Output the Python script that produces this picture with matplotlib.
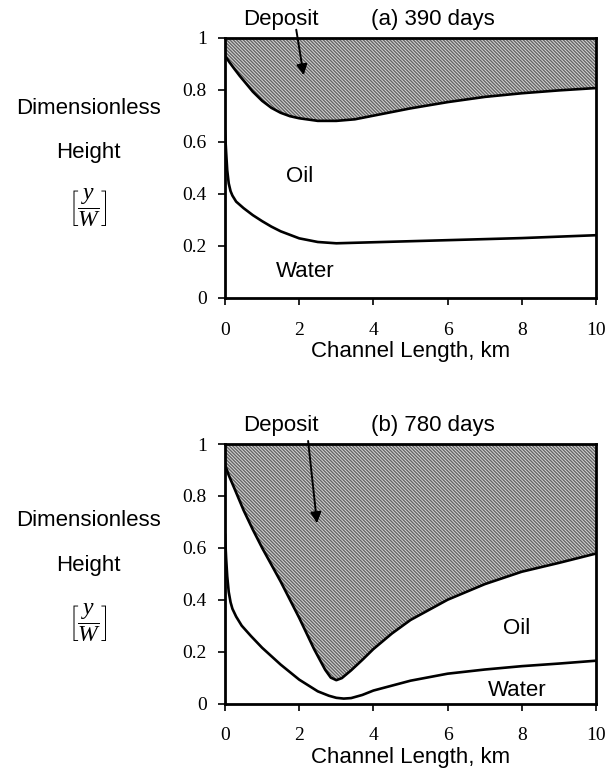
import numpy as np
import matplotlib
matplotlib.use('Agg')
import matplotlib.pyplot as plt

plt.rcParams.update({
    'font.family': 'Liberation Sans',
    'mathtext.fontset': 'custom',
    'mathtext.rm': 'Liberation Serif',
    'mathtext.it': 'Liberation Serif:italic',
    'hatch.linewidth': 1.0,
    'hatch.color': '#666666',
})

# ---- panel (a) 390 days ----
dep_a_x = [0, 0.12, 0.25, 0.4, 0.5, 0.75, 1.0, 1.25, 1.5, 1.75, 2.0, 2.5, 3.0, 3.5, 4.0, 5.0, 6.0, 7.0, 8.0, 9.0, 10.0]
dep_a_y = [0.93, 0.905, 0.88, 0.852, 0.835, 0.792, 0.757, 0.73, 0.711, 0.698, 0.69, 0.68, 0.68, 0.686, 0.70, 0.728, 0.752, 0.772, 0.786, 0.797, 0.806]
ow_a_x = [0, 0.03, 0.06, 0.1, 0.15, 0.2, 0.3, 0.5, 0.75, 1.0, 1.25, 1.5, 2.0, 2.5, 3.0, 3.5, 4.0, 6.0, 8.0, 10.0]
ow_a_y = [0.64, 0.56, 0.49, 0.44, 0.41, 0.393, 0.37, 0.345, 0.318, 0.295, 0.274, 0.256, 0.229, 0.215, 0.21, 0.212, 0.214, 0.222, 0.23, 0.241]

# ---- panel (b) 780 days ----
dep_b_x = [0, 0.1, 0.25, 0.5, 0.75, 1.0, 1.5, 2.0, 2.4, 2.7, 2.85, 3.0, 3.15, 3.4, 3.7, 4.0, 4.5, 5.0, 6.0, 7.0, 8.0, 9.0, 10.0]
dep_b_y = [0.92, 0.88, 0.83, 0.745, 0.67, 0.60, 0.47, 0.33, 0.21, 0.13, 0.1, 0.09, 0.098, 0.128, 0.168, 0.21, 0.27, 0.322, 0.40, 0.46, 0.508, 0.542, 0.578]
ow_b_x = [0, 0.03, 0.06, 0.1, 0.15, 0.2, 0.3, 0.45, 0.7, 1.0, 1.5, 2.0, 2.5, 2.8, 3.0, 3.2, 3.4, 3.7, 4.0, 5.0, 6.0, 7.0, 8.0, 9.0, 10.0]
ow_b_y = [0.65, 0.56, 0.49, 0.43, 0.39, 0.365, 0.335, 0.30, 0.26, 0.215, 0.15, 0.092, 0.047, 0.03, 0.022, 0.019, 0.021, 0.033, 0.05, 0.088, 0.115, 0.131, 0.144, 0.154, 0.165]

x_ticks = [0, 2, 4, 6, 8, 10]
y_ticks = [0, 0.2, 0.4, 0.6, 0.8, 1.0]
y_ticklabels = ['0', '0.2', '0.4', '0.6', '0.8', '1']

panels = [
    dict(dep_x=dep_a_x, dep_y=dep_a_y, ow_x=ow_a_x, ow_y=ow_a_y,
         title='(a) 390 days', oil=(2.0, 0.465), water=(2.17, 0.10),
         arrow_from=(1.92, 1.03), arrow_to=(2.12, 0.855),
         rect=[0.3707, 0.614, 0.6112, 0.3374], side_y=[0.860, 0.803, 0.731]),
    dict(dep_x=dep_b_x, dep_y=dep_b_y, ow_x=ow_b_x, ow_y=ow_b_y,
         title='(b) 780 days', oil=(7.87, 0.29), water=(7.87, 0.05),
         arrow_from=(2.24, 1.012), arrow_to=(2.48, 0.695),
         rect=[0.3707, 0.0887, 0.6112, 0.3361], side_y=[0.326, 0.268, 0.193]),
]

fig = plt.figure(figsize=(6.07, 7.72), dpi=100)
fs = 16
tick_font = {'family': 'Liberation Serif', 'size': 14}

for p in panels:
    ax = fig.add_axes(p['rect'])
    ax.fill_between(p['dep_x'], p['dep_y'], 1.0, facecolor='#d9d9d9',
                    edgecolor='none', hatch='\\' * 10, linewidth=0)
    ax.plot(p['dep_x'], p['dep_y'], color='black', lw=1.9)
    ax.plot(p['ow_x'], p['ow_y'], color='black', lw=1.9)

    ax.set_xlim(0, 10)
    ax.set_ylim(0, 1)
    ax.set_xticks(x_ticks)
    ax.set_xticklabels([str(t) for t in x_ticks], fontdict=tick_font)
    ax.set_yticks(y_ticks)
    ax.set_yticklabels(y_ticklabels, fontdict=tick_font)
    ax.tick_params(axis='both', direction='out', length=5, width=1.2)
    ax.tick_params(axis='x', pad=12)
    ax.tick_params(axis='y', pad=8)
    for s in ax.spines.values():
        s.set_linewidth(2.0)
    ax.set_xlabel('Channel Length, km', fontsize=fs, labelpad=2)

    ax.text(p['oil'][0], p['oil'][1], 'Oil', fontsize=fs, ha='center', va='center')
    ax.text(p['water'][0], p['water'][1], 'Water', fontsize=fs, ha='center', va='center')
    ax.text(5.6, 1.07, p['title'], fontsize=fs, ha='center', va='center', clip_on=False)
    ax.text(1.5, 1.07, 'Deposit', fontsize=fs, ha='center', va='center', clip_on=False)
    ax.annotate('', xy=p['arrow_to'], xytext=p['arrow_from'],
                arrowprops=dict(arrowstyle='-|>', color='black', lw=1.4,
                                mutation_scale=16, shrinkA=0, shrinkB=0),
                annotation_clip=False)

    fig.text(0.145, p['side_y'][0], 'Dimensionless', fontsize=fs, ha='center', va='center')
    fig.text(0.145, p['side_y'][1], 'Height', fontsize=fs, ha='center', va='center')
    fig.text(0.145, p['side_y'][2], r'$\left[\dfrac{y}{W}\right]$', fontsize=17,
             ha='center', va='center')

plt.savefig('out.png', dpi=100)
plt.close(fig)
